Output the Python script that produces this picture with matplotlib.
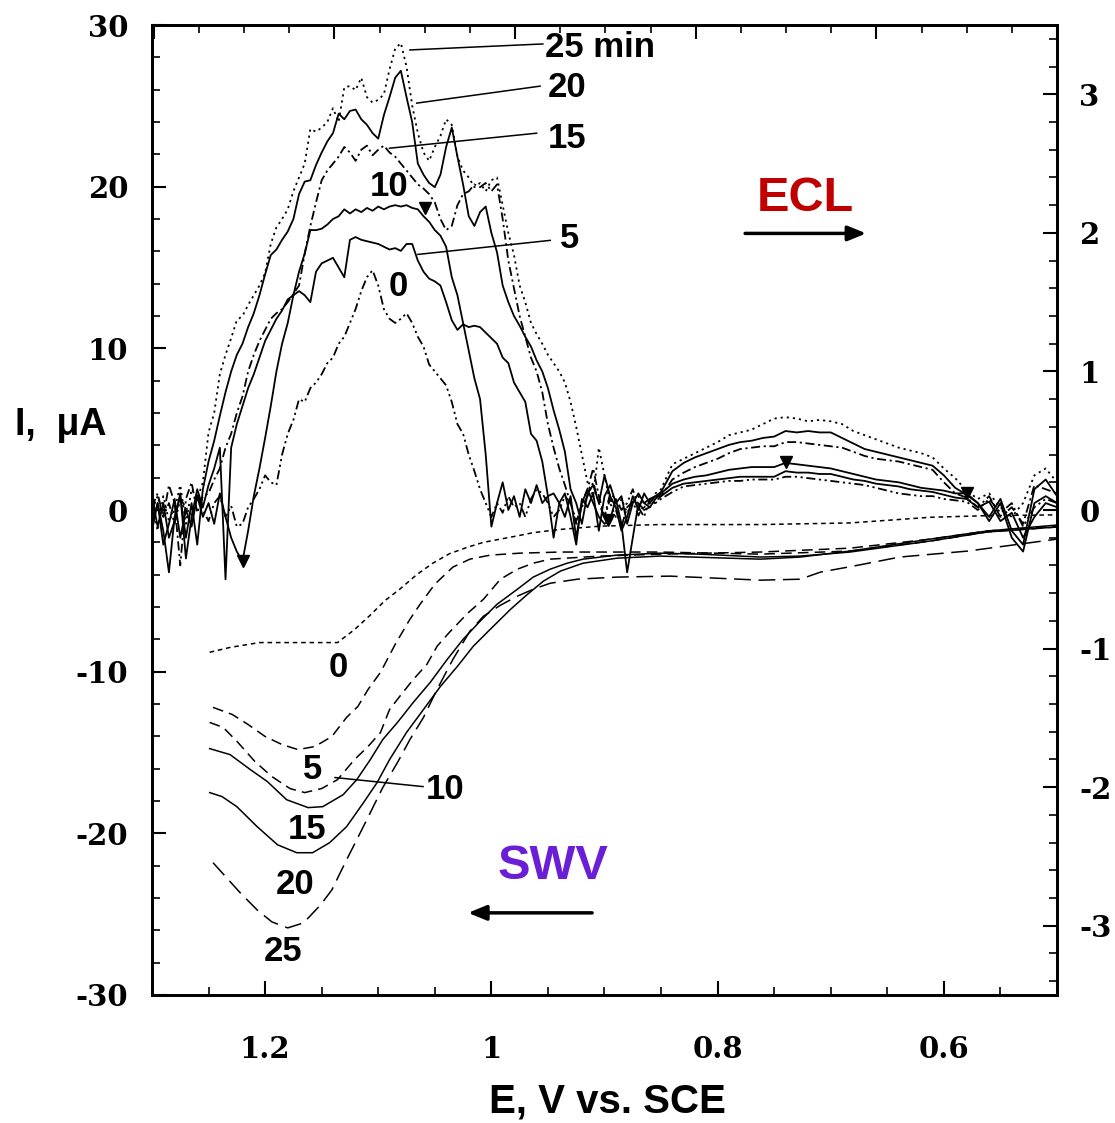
import numpy as np
import matplotlib
matplotlib.use('Agg')
import matplotlib.pyplot as plt
from matplotlib.ticker import MultipleLocator

plt.rcParams['axes.unicode_minus'] = False

# ---------------------------------------------------------------------------
# SWV current (left axis, uA) vs E (V vs SCE), one pair of lists per time

swv_E_0 = [1.249, 1.231, 1.205, 1.169, 1.136, 1.121, 1.107, 1.094, 1.081, 1.066, 1.052, 1.037,
           1.021, 1.007, 0.992, 0.977, 0.963, 0.939, 0.904, 0.851, 0.762, 0.683, 0.612, 0.562, 0.500]
swv_I_0 = [-8.8, -8.5, -8.2, -8.2, -8.2, -7.4, -6.5, -5.6, -4.9, -4.0, -3.3, -2.7,
           -2.3, -2.0, -1.8, -1.6, -1.4, -1.2, -1.0, -0.9, -0.9, -0.8, -0.45, -0.35, -0.3]

swv_E_5 = [1.246, 1.229, 1.215, 1.200, 1.185, 1.171, 1.156, 1.141, 1.128, 1.118, 1.109, 1.098,
           1.085, 1.072, 1.063, 1.050, 1.034, 1.019, 1.001, 0.975, 0.939, 0.851, 0.762, 0.683,
           0.612, 0.562, 0.500]
swv_I_5 = [-12.21, -12.65, -13.27, -14.01, -14.51, -14.82, -14.63, -14.01, -12.83, -12.15, -11.10, -10.04,
           -8.31, -6.76, -5.83, -4.59, -3.53, -3.04, -2.79, -2.67, -2.60, -2.60, -2.73, -2.54,
           -1.92, -1.36, -1.05]

swv_E_10 = [1.249, 1.237, 1.224, 1.209, 1.194, 1.178, 1.165, 1.150, 1.136, 1.121, 1.109, 1.098,
            1.090, 1.081, 1.069, 1.057, 1.048, 1.037, 1.021, 1.007, 0.992, 0.977, 0.963, 0.948,
            0.904, 0.851, 0.762, 0.683, 0.612, 0.562, 0.500]
swv_I_10 = [-13.14, -13.45, -14.38, -15.56, -16.49, -17.23, -17.48, -17.23, -16.68, -15.44, -14.63, -13.76,
            -12.34, -11.53, -10.48, -9.55, -8.43, -7.56, -6.39, -5.52, -4.28, -3.66, -3.29, -3.04,
            -2.85, -2.73, -2.60, -2.36, -1.80, -1.30, -0.99]

swv_E_15 = [1.249, 1.231, 1.213, 1.198, 1.181, 1.162, 1.149, 1.131, 1.119, 1.107, 1.096, 1.083,
            1.069, 1.054, 1.039, 1.025, 1.010, 0.995, 0.977, 0.963, 0.948, 0.933, 0.919, 0.889,
            0.851, 0.816, 0.762, 0.727, 0.683, 0.612, 0.562, 0.500]
swv_I_15 = [-14.76, -15.13, -16.06, -16.80, -17.92, -18.41, -18.35, -17.61, -16.68, -15.44, -14.20, -13.14,
            -11.90, -10.66, -9.24, -8.00, -6.88, -5.83, -4.90, -4.15, -3.66, -3.29, -3.04, -2.79,
            -2.67, -2.73, -2.91, -2.85, -2.60, -1.92, -1.36, -1.05]

swv_E_20 = [1.249, 1.238, 1.225, 1.207, 1.189, 1.172, 1.158, 1.143, 1.128, 1.113, 1.101, 1.090,
            1.075, 1.060, 1.045, 1.030, 1.016, 1.001, 0.983, 0.968, 0.954, 0.939, 0.919, 0.889,
            0.851, 0.762, 0.727, 0.683, 0.612, 0.562, 0.500]
swv_I_20 = [-17.48, -17.73, -18.35, -19.59, -20.71, -21.20, -21.20, -20.58, -19.59, -18.10, -16.86, -15.44,
            -13.76, -12.34, -10.91, -9.67, -8.43, -7.38, -6.14, -5.21, -4.40, -3.78, -3.29, -2.98,
            -2.85, -3.04, -2.91, -2.54, -1.80, -1.30, -0.93]

swv_E_25 = [1.246, 1.234, 1.222, 1.207, 1.194, 1.180, 1.166, 1.151, 1.141, 1.128, 1.119, 1.107,
            1.096, 1.083, 1.072, 1.060, 1.048, 1.034, 1.019, 1.007, 0.992, 0.977, 0.963, 0.948,
            0.924, 0.889, 0.842, 0.762, 0.727, 0.709, 0.680, 0.639, 0.579, 0.500]
swv_I_25 = [-21.82, -22.75, -23.68, -24.74, -25.48, -25.85, -25.54, -24.43, -23.50, -21.64, -20.40, -18.72,
            -17.17, -15.62, -14.20, -12.83, -11.10, -9.24, -7.50, -6.57, -5.89, -5.33, -4.90, -4.53,
            -4.28, -4.15, -4.09, -4.34, -4.28, -3.84, -3.47, -2.91, -2.54, -1.80]

# ---------------------------------------------------------------------------
# ECL intensity (right axis) read on a potential grid:
# part a: 1.300 -> 0.850 V every 5 mV, part b: 0.84 -> 0.50 V every 10 mV
ecl_E_a = np.round(np.arange(1.300, 0.8499, -0.005), 3)
ecl_E_b = np.round(np.arange(0.84, 0.4999, -0.01), 2)

ecl_25_a = [0.05, -0.15, 0.10, -0.08, 0.00, 0.18, -0.10, 0.15, 0.08, 0.20,
            0.56, 0.70, 0.98, 1.12, 1.24, 1.37, 1.40, 1.48, 1.55, 1.62,
            1.71, 1.92, 2.04, 2.10, 2.17, 2.30, 2.40, 2.50, 2.75, 2.73,
            2.76, 2.80, 2.90, 2.80, 3.05, 3.06, 3.03, 3.12, 2.98, 2.94,
            2.96, 3.00, 3.18, 3.33, 3.37, 3.20, 2.92, 2.72, 2.58, 2.52,
            2.62, 2.70, 2.82, 2.78, 2.55, 2.45, 2.40, 2.33, 2.36, 2.30,
            2.38, 2.40, 2.20, 2.00, 1.84, 1.62, 1.50, 1.35, 1.27, 1.20,
            1.12, 1.06, 1.00, 0.92, 0.78, 0.60, 0.40, 0.20, 0.10, 0.45,
            0.25, 0.05, -0.05, 0.08, -0.02, 0.05, 0.10, 0.02, 0.05, 0.12,
            0.15]
ecl_25_b = [0.33, 0.37, 0.41, 0.45, 0.49, 0.54, 0.56, 0.58, 0.62, 0.66,
            0.67, 0.66, 0.64, 0.65, 0.64, 0.62, 0.57, 0.54, 0.51, 0.48,
            0.45, 0.43, 0.41, 0.38, 0.30, 0.23, 0.14, 0.08, 0.12, 0.02,
            -0.05, 0.05, 0.25, 0.30, 0.20]

ecl_20_a = [-0.10, 0.05, -0.15, -0.45, -0.05, 0.10, -0.20, 0.05, -0.25, 0.15,
            0.35, 0.50, 0.68, 0.85, 1.00, 1.12, 1.20, 1.32, 1.42, 1.55,
            1.70, 1.84, 1.88, 1.95, 2.01, 2.10, 2.28, 2.37, 2.38, 2.49,
            2.58, 2.66, 2.72, 2.86, 2.82, 2.88, 2.89, 2.82, 2.78, 2.72,
            2.68, 2.85, 2.98, 3.12, 3.17, 2.98, 2.80, 2.50, 2.42, 2.36,
            2.33, 2.42, 2.62, 2.76, 2.55, 2.35, 2.12, 2.05, 2.15, 2.19,
            2.00, 1.86, 1.62, 1.50, 1.40, 1.33, 1.25, 1.18, 1.08, 1.00,
            0.88, 0.72, 0.58, 0.42, 0.15, 0.05, -0.10, 0.12, 0.18, 0.05,
            0.25, 0.10, 0.02, -0.15, -0.05, 0.10, 0.00, 0.12, 0.05, 0.10,
            0.13]
ecl_20_b = [0.28, 0.34, 0.38, 0.41, 0.44, 0.47, 0.49, 0.50, 0.52, 0.53,
            0.57, 0.56, 0.57, 0.56, 0.56, 0.52, 0.48, 0.44, 0.42, 0.40,
            0.38, 0.36, 0.34, 0.32, 0.25, 0.16, 0.11, 0.05, -0.05, 0.08,
            -0.15, -0.25, 0.15, 0.22, 0.10]

ecl_15_a = [0.02, 0.12, -0.05, 0.18, 0.05, -0.40, 0.08, 0.20, -0.02, 0.10,
            0.12, 0.22, 0.30, 0.45, 0.55, 0.70, 0.82, 1.00, 1.12, 1.22,
            1.30, 1.38, 1.42, 1.45, 1.50, 1.56, 1.62, 1.85, 2.05, 2.22,
            2.38, 2.45, 2.50, 2.55, 2.62, 2.58, 2.52, 2.60, 2.63, 2.56,
            2.60, 2.63, 2.58, 2.55, 2.50, 2.45, 2.40, 2.35, 2.32, 2.28,
            2.22, 2.10, 2.02, 2.05, 2.20, 2.28, 2.30, 2.35, 2.33, 2.36,
            2.30, 2.35, 2.10, 1.80, 1.60, 1.40, 1.25, 1.10, 1.00, 0.85,
            0.62, 0.45, 0.30, 0.18, 0.05, -0.10, 0.05, 0.15, 0.30, 0.10,
            -0.05, 0.08, 0.00, -0.12, 0.02, 0.06, -0.04, 0.05, 0.02, 0.06,
            0.10]
ecl_15_b = [0.22, 0.27, 0.31, 0.34, 0.37, 0.41, 0.44, 0.45, 0.46, 0.46,
            0.49, 0.49, 0.48, 0.47, 0.46, 0.45, 0.42, 0.39, 0.37, 0.36,
            0.35, 0.33, 0.31, 0.29, 0.20, 0.12, 0.09, 0.02, 0.10, -0.05,
            0.02, -0.10, 0.18, 0.15, 0.12]

ecl_10_a = [-0.15, 0.05, -0.25, -0.10, 0.08, -0.20, 0.00, -0.12, 0.10, -0.05,
            0.05, -0.10, 0.12, -0.05, -0.20, -0.30, -0.37, -0.15, 0.10, 0.30,
            0.52, 0.75, 1.00, 1.20, 1.35, 1.55, 1.72, 1.85, 2.02, 2.02,
            2.03, 2.06, 2.10, 2.12, 2.17, 2.14, 2.17, 2.15, 2.18, 2.16,
            2.19, 2.17, 2.19, 2.20, 2.19, 2.20, 2.18, 2.17, 2.12, 2.08,
            2.02, 1.98, 1.90, 1.68, 1.55, 1.35, 1.15, 0.95, 0.80, 0.40,
            -0.12, 0.05, 0.20, 0.00, 0.10, -0.05, 0.15, 0.05, 0.18, 0.05,
            0.10, 0.12, 0.05, -0.05, 0.10, -0.20, 0.05, 0.15, 0.05, -0.05,
            -0.10, -0.07, 0.08, -0.10, -0.45, -0.20, 0.05, 0.00, 0.02, 0.08,
            0.12]
ecl_10_b = [0.19, 0.22, 0.24, 0.25, 0.27, 0.29, 0.30, 0.31, 0.31, 0.31,
            0.34, 0.33, 0.32, 0.31, 0.30, 0.28, 0.26, 0.24, 0.22, 0.21,
            0.20, 0.18, 0.16, 0.15, 0.14, 0.12, 0.12, 0.05, -0.08, 0.05,
            -0.20, -0.30, 0.05, 0.10, 0.05]

ecl_5_a = [0.10, -0.12, 0.05, -0.20, -0.08, 0.12, -0.35, -0.05, 0.15, 0.02,
           0.18, 0.30, 0.45, -0.50, 0.45, 0.62, 0.75, 0.88, 0.98, 1.10,
           1.22, 1.30, 1.38, 1.44, 1.52, 1.55, 1.58, 1.55, 1.50, 1.72,
           1.78, 1.80, 1.82, 1.75, 1.68, 1.95, 1.97, 1.95, 1.94, 1.93,
           1.92, 1.90, 1.88, 1.89, 1.87, 1.92, 1.92, 1.80, 1.72, 1.67,
           1.65, 1.62, 1.50, 1.37, 1.30, 1.34, 1.32, 1.33, 1.32, 1.28,
           1.24, 1.20, 1.10, 1.06, 0.92, 0.85, 0.78, 0.55, 0.50, 0.35,
           0.10, -0.20, 0.05, 0.12, -0.05, -0.25, 0.08, 0.02, 0.12, -0.15,
           0.10, 0.18, 0.05, 0.10, -0.10, 0.05, 0.12, 0.05, 0.08, 0.10,
           0.10]
ecl_5_b = [0.16, 0.19, 0.20, 0.21, 0.22, 0.23, 0.24, 0.24, 0.24, 0.24,
           0.28, 0.27, 0.27, 0.26, 0.26, 0.24, 0.22, 0.21, 0.19, 0.18,
           0.17, 0.15, 0.14, 0.13, 0.11, 0.09, 0.08, 0.02, 0.06, -0.08,
           -0.02, -0.20, -0.05, 0.05, 0.02]

ecl_0_a = [0.00, 0.10, -0.05, 0.05, -0.10, 0.08, 0.02, -0.05, 0.12, 0.00,
           -0.08, 0.05, 0.10, -0.05, 0.03, -0.12, -0.10, 0.02, 0.08, 0.15,
           0.25, 0.20, 0.18, 0.40, 0.55, 0.65, 0.80, 0.78, 0.88, 0.92,
           0.98, 1.06, 1.10, 1.20, 1.25, 1.35, 1.45, 1.58, 1.68, 1.73,
           1.62, 1.45, 1.38, 1.35, 1.38, 1.42, 1.35, 1.25, 1.18, 1.05,
           1.00, 0.95, 0.90, 0.78, 0.62, 0.55, 0.40, 0.28, 0.15, 0.05,
           -0.05, 0.05, -0.02, 0.10, 0.02, 0.05, -0.05, 0.08, 0.15, 0.12,
           0.05, -0.05, 0.00, 0.10, 0.05, -0.08, 0.02, 0.10, 0.20, 0.05,
           -0.05, 0.12, 0.08, 0.00, 0.05, 0.15, 0.02, -0.05, 0.08, 0.05,
           0.08]
ecl_0_b = [0.13, 0.17, 0.18, 0.19, 0.20, 0.21, 0.21, 0.22, 0.22, 0.22,
           0.24, 0.24, 0.23, 0.22, 0.21, 0.20, 0.19, 0.18, 0.16, 0.14,
           0.12, 0.11, 0.10, 0.10, 0.08, 0.07, 0.06, 0.00, 0.08, -0.02,
           0.05, -0.12, 0.02, 0.08, 0.05]

# filled triangles sitting on the 10 min ECL trace
mark_E = [1.2195, 1.0586, 0.8968, 0.7394, 0.5794]
mark_R = [-0.37, 2.18, -0.07, 0.35, 0.12]

# ---------------------------------------------------------------------------
# figure and axes

fig = plt.figure(figsize=(11.15, 11.23), dpi=100)
ax = fig.add_axes([0.1363, 0.1140, 0.8117, 0.8637])
ax2 = ax.twinx()
ax3 = ax.twiny()

lw_swv = 1.1
ax.plot(swv_E_0, swv_I_0, color='k', lw=lw_swv, ls=(0, (3, 2.5)))
ax.plot(swv_E_5, swv_I_5, color='k', lw=lw_swv, ls=(0, (7, 4)))
ax.plot(swv_E_10, swv_I_10, color='k', lw=lw_swv, ls=(0, (7, 4)))
ax.plot(swv_E_15, swv_I_15, color='k', lw=lw_swv, ls='-')
ax.plot(swv_E_20, swv_I_20, color='k', lw=lw_swv, ls='-')
ax.plot(swv_E_25, swv_I_25, color='k', lw=lw_swv, ls=(0, (11, 5)))

ecl_E = np.concatenate([ecl_E_a, ecl_E_b])
lw_ecl = 1.3
ax2.plot(ecl_E, ecl_0_a + ecl_0_b, color='k', lw=lw_ecl, ls=(0, (5, 2, 1.2, 2, 1.2, 2)))
ax2.plot(ecl_E, ecl_5_a + ecl_5_b, color='k', lw=lw_ecl, ls='-')
ax2.plot(ecl_E, ecl_10_a + ecl_10_b, color='k', lw=lw_ecl, ls='-')
ax2.plot(ecl_E, ecl_15_a + ecl_15_b, color='k', lw=lw_ecl, ls=(0, (5, 2, 1.2, 2)))
ax2.plot(ecl_E, ecl_20_a + ecl_20_b, color='k', lw=lw_ecl, ls='-')
ax2.plot(ecl_E, ecl_25_a + ecl_25_b, color='k', lw=lw_ecl, ls=(0, (1.2, 2.2)))
ax2.plot(mark_E, mark_R, ls='none', marker='v', color='k', ms=9)

# limits
ax.set_xlim(1.3, 0.5)
ax.set_ylim(-30, 30)
ax2.set_ylim(-3.5, 3.5)
ax3.set_xlim(-1.01, 4.0)

# ticks
for a in (ax, ax2, ax3):
    for s in a.spines.values():
        s.set_linewidth(1.8)

ax.xaxis.set_major_locator(MultipleLocator(0.2))
ax.xaxis.set_minor_locator(MultipleLocator(0.05))
ax.yaxis.set_major_locator(MultipleLocator(10))
ax.yaxis.set_minor_locator(MultipleLocator(2))
ax2.yaxis.set_major_locator(MultipleLocator(1))
ax2.yaxis.set_minor_locator(MultipleLocator(0.2))
ax3.xaxis.set_major_locator(MultipleLocator(1))
ax3.xaxis.set_minor_locator(MultipleLocator(0.25))

tick_font = {'family': 'DejaVu Serif', 'weight': 'bold', 'size': 21}
ax.tick_params(axis='both', which='both', direction='in', top=False, right=False)
ax.tick_params(axis='both', which='major', length=10, width=1.5)
ax.tick_params(axis='both', which='minor', length=5.5, width=1.2)
ax.tick_params(axis='y', which='major', pad=17)
ax.tick_params(axis='x', which='major', pad=29)
ax2.tick_params(axis='y', which='both', direction='in')
ax2.tick_params(axis='y', which='major', length=10, width=1.5, pad=16)
ax2.tick_params(axis='y', which='minor', length=5.5, width=1.2)
ax3.tick_params(axis='x', which='both', direction='in', labeltop=False)
ax3.tick_params(axis='x', which='major', length=10, width=1.5)
ax3.tick_params(axis='x', which='minor', length=5.5, width=1.2)

ax.set_xticks([1.2, 1.0, 0.8, 0.6])
ax.set_xticklabels(['1.2', '1', '0.8', '0.6'], fontdict=tick_font)
ax.set_yticks([-30, -20, -10, 0, 10, 20, 30])
ax.set_yticklabels(['-30', '-20', '-10', '0', '10', '20', '30'], fontdict=tick_font)
ax2.set_yticks([-3, -2, -1, 0, 1, 2, 3])
ax2.set_yticklabels(['-3', '-2', '-1', '0', '1', '2', '3'], fontdict=tick_font)

# axis titles
lab_font = ['Liberation Sans', 'DejaVu Sans']
fig.text(0.5445, 0.0187, 'E, V vs. SCE', ha='center', va='center',
         family=lab_font, weight='bold', size=29)
fig.text(0.0135, 0.6215, 'I,  \u03bcA', ha='left', va='center',
         family=lab_font, weight='bold', size=27)

# labels of the ECL traces (in left-axis units)
ann = dict(family=lab_font, weight='bold', size=25, color='k')
ax.text(0.9525, 28.58, '25 min', ha='left', va='center', **ann)
ax.text(0.933, 26.16, '20', ha='center', va='center', **ann)
ax.text(0.933, 23.0, '15', ha='center', va='center', **ann)
ax.text(1.0905, 20.02, '10', ha='center', va='center', **ann)
ax.text(0.9304, 16.80, '5', ha='center', va='center', **ann)
ax.text(1.0825, 13.83, '0', ha='center', va='center', **ann)
ax.plot([0.9545, 1.0720], [28.83, 28.46], color='k', lw=1.1)
ax.plot([0.9570, 1.0660], [26.22, 25.17], color='k', lw=1.1)
ax.plot([0.9600, 1.0900], [23.31, 22.38], color='k', lw=1.1)
ax.plot([0.9480, 1.0650], [16.68, 15.81], color='k', lw=1.1)

# labels of the SWV traces
ax.text(1.1355, -9.73, '0', ha='center', va='center', **ann)
ax.text(1.1576, -16.06, '5', ha='center', va='center', **ann)
ax.text(1.1630, -19.78, '15', ha='center', va='center', **ann)
ax.text(1.1736, -23.19, '20', ha='center', va='center', **ann)
ax.text(1.1842, -27.34, '25', ha='center', va='center', **ann)
ax.text(1.0409, -17.30, '10', ha='center', va='center', **ann)
ax.plot([1.0604, 1.1382], [-17.11, -16.55], color='k', lw=1.1)

# ECL / SWV tags with direction arrows
ax.text(0.7226, 19.28, 'ECL', ha='center', va='center', family=lab_font,
        weight='bold', size=35, color='#c00000')
ax.text(0.9455, -22.07, 'SWV', ha='center', va='center', family=lab_font,
        weight='bold', size=35, color='#6a1fd6')
arr = dict(arrowstyle='-|>,head_length=1.1,head_width=0.45', color='k', lw=2.5,
           shrinkA=0, shrinkB=0)
ax.annotate('', xy=(0.6687, 17.11), xytext=(0.7757, 17.11), arrowprops=arr)
ax.annotate('', xy=(1.0206, -24.92), xytext=(0.9110, -24.92), arrowprops=arr)

fig.savefig('out.png', dpi=100)
